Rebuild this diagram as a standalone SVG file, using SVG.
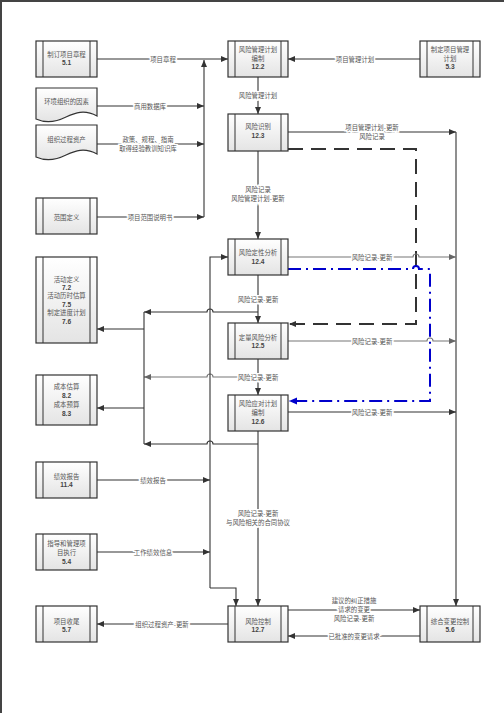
<svg xmlns="http://www.w3.org/2000/svg" width="504" height="713" viewBox="0 0 504 713">
<defs>
<linearGradient id="g" x1="0" y1="0" x2="0" y2="1">
<stop offset="0" stop-color="#ffffff"/>
<stop offset="1" stop-color="#e4e4e4"/>
</linearGradient>
<marker id="ad" markerUnits="userSpaceOnUse" markerWidth="8" markerHeight="7" refX="7" refY="3" orient="auto">
<path d="M0,0 L7,3 L0,6 z" fill="#333"/>
</marker>
<marker id="ag" markerUnits="userSpaceOnUse" markerWidth="8" markerHeight="7" refX="7" refY="3" orient="auto">
<path d="M0,0 L7,3 L0,6 z" fill="#666"/>
</marker>
<marker id="ab" markerUnits="userSpaceOnUse" markerWidth="9" markerHeight="8" refX="8" refY="3.5" orient="auto">
<path d="M0,0 L8,3.5 L0,7 z" fill="#0000cc"/>
</marker>
</defs>
<style>
.box{fill:url(#g);stroke:#333;stroke-width:1.2}
.in{stroke:#333;stroke-width:1}
.t{font-family:"Noto Sans CJK SC","Liberation Sans",sans-serif;font-size:6.4px;fill:#555;text-anchor:middle;dominant-baseline:central}
.n{font-family:"Liberation Sans","Noto Sans CJK SC",sans-serif;font-size:6.6px;font-weight:bold;fill:#444;text-anchor:middle;dominant-baseline:central}
.l{font-family:"Noto Sans CJK SC","Liberation Sans",sans-serif;font-size:6.4px;fill:#555;text-anchor:middle;dominant-baseline:central;stroke:#fff;stroke-width:3;paint-order:stroke}
.c{fill:none;stroke:#333;stroke-width:1.1}
.cd{fill:none;stroke:#333;stroke-width:1.1;marker-end:url(#ad)}
.cg{fill:none;stroke:#777;stroke-width:1.1;marker-end:url(#ag)}
.dash{fill:none;stroke:#333;stroke-width:2;stroke-dasharray:15 8;marker-end:url(#ad)}
.blue{fill:none;stroke:#0000cc;stroke-width:2;stroke-dasharray:13 5 2 5;marker-end:url(#ab)}
</style>
<rect x="0" y="0" width="504" height="713" fill="#fff"/>
<path d="M1,713 V1 H504" fill="none" stroke="#444" stroke-width="2"/>

<g id="connectors">
<path class="cd" d="M97,59 H228"/>
<text class="l" x="163" y="59">项目章程</text>
<path class="cd" d="M420,59 H288"/>
<text class="l" x="355" y="59">项目管理计划</text>
<path class="cd" d="M204,217 V60"/>
<path class="cd" d="M97,106 H204"/>
<text class="l" x="150" y="106">商用数据库</text>
<path class="cd" d="M97,144 H204"/>
<text class="l" x="148" y="139">政策、规程、指南</text>
<text class="l" x="148" y="148">取得经验教训知识库</text>
<path class="cd" d="M97,217 H204"/>
<text class="l" x="150" y="217">项目范围说明书</text>

<path class="cd" d="M258,77 V114"/>
<text class="l" x="258" y="95">风险管理计划</text>
<path class="cd" d="M258,151 V239"/>
<text class="l" x="258" y="189">风险记录</text>
<text class="l" x="258" y="198">风险管理计划-更新</text>

<path class="cd" d="M288,132 H456"/>
<text class="l" x="372" y="127">项目管理计划-更新</text>
<text class="l" x="372" y="136">风险记录</text>
<path class="cd" d="M456,132 V606"/>

<path class="dash" d="M288,149 H416 V324 H289"/>

<path class="cg" d="M288,257 H413 a3,3 0 0 1 6,0 H456"/>
<text class="l" x="372" y="257">风险记录-更新</text>

<path class="blue" d="M288,269 H413 a3,3 0 0 1 6,0 H430 V401 H289"/>

<path class="cg" d="M288,341 H427 a3,3 0 0 1 6,0 H456"/>
<text class="l" x="372" y="341">风险记录-更新</text>
<path class="cd" d="M288,412 H456"/>
<text class="l" x="372" y="412">风险记录-更新</text>

<path class="cd" d="M258,275 V323"/>
<text class="l" x="258" y="299">风险记录-更新</text>
<path class="cd" d="M258,312 H213 a3,3 0 0 0 -6,0 H144"/>
<path class="cd" d="M258,359 V395"/>
<path class="cg" d="M258,377 H213 a3,3 0 0 0 -6,0 H144"/>
<text class="l" x="258" y="377">风险记录-更新</text>
<path class="cd" d="M258,431 V606"/>
<path class="cd" d="M258,444 H213 a3,3 0 0 0 -6,0 H144"/>
<text class="l" x="258" y="513">风险记录-更新</text>
<text class="l" x="258" y="522">与风险相关的合同协议</text>

<path class="c" d="M144,312 V444"/>
<path class="cd" d="M144,329 H97"/>
<path class="cd" d="M144,408 H97"/>

<path class="cd" d="M210,588 V257 H228"/>
<path class="cd" d="M210,588 H236 V606"/>
<path class="cd" d="M97,480 H210"/>
<text class="l" x="153" y="480">绩效报告</text>
<path class="cd" d="M97,552 H210"/>
<text class="l" x="153" y="552">工作绩效信息</text>

<path class="cd" d="M228,624 H97"/>
<text class="l" x="162" y="624">组织过程资产-更新</text>
<path class="cd" d="M288,610 H420"/>
<text class="l" x="354" y="600">建议的纠正措施</text>
<text class="l" x="354" y="609">请求的变更</text>
<text class="l" x="354" y="618">风险记录-更新</text>
<path class="cd" d="M420,636 H288"/>
<text class="l" x="354" y="636">已批准的变更请求</text>
</g>

<g id="n51">
<rect class="box" x="36" y="41" width="61" height="36"/>
<path class="in" d="M43,41 V77 M90,41 V77"/>
<text class="t" x="66.5" y="54">制订项目章程</text>
<text class="n" x="66.5" y="62">5.1</text>
</g>
<g id="n122">
<rect class="box" x="228" y="41" width="60" height="36"/>
<path class="in" d="M235,41 V77 M281,41 V77"/>
<text class="t" x="258" y="49">风险管理计划</text>
<text class="t" x="258" y="58">编制</text>
<text class="n" x="258" y="66">12.2</text>
</g>
<g id="n53">
<rect class="box" x="420" y="41" width="60" height="36"/>
<path class="in" d="M427,41 V77 M473,41 V77"/>
<text class="t" x="450" y="49">制定项目管理</text>
<text class="t" x="450" y="58">计划</text>
<text class="n" x="450" y="66">5.3</text>
</g>
<g id="env">
<path class="box" d="M36,88 H97 V116 C84,109 75,113 66,117 C56,122 45,123 36,119 Z"/>
<text class="t" x="66.5" y="101">环境组织的因素</text>
</g>
<g id="opa">
<path class="box" d="M36,125 H97 V154 C84,147 75,151 66,155 C56,160 45,161 36,157 Z"/>
<text class="t" x="66.5" y="139">组织过程资产</text>
</g>
<g id="n123">
<rect class="box" x="228" y="114" width="60" height="37"/>
<path class="in" d="M235,114 V151 M281,114 V151"/>
<text class="t" x="258" y="126">风险识别</text>
<text class="n" x="258" y="135">12.3</text>
</g>
<g id="scope">
<rect class="box" x="36" y="198" width="61" height="36"/>
<path class="in" d="M43,198 V234 M90,198 V234"/>
<text class="t" x="66.5" y="217">范围定义</text>
</g>
<g id="n124">
<rect class="box" x="228" y="239" width="60" height="36"/>
<path class="in" d="M235,239 V275 M281,239 V275"/>
<text class="t" x="258" y="252">风险定性分析</text>
<text class="n" x="258" y="261">12.4</text>
</g>
<g id="act">
<rect class="box" x="36" y="257" width="61" height="86"/>
<path class="in" d="M43,257 V343 M90,257 V343"/>
<text class="t" x="66.5" y="279">活动定义</text>
<text class="n" x="66.5" y="287">7.2</text>
<text class="t" x="66.5" y="295">活动历时估算</text>
<text class="n" x="66.5" y="304">7.5</text>
<text class="t" x="66.5" y="312">制定进度计划</text>
<text class="n" x="66.5" y="321">7.6</text>
</g>
<g id="n125">
<rect class="box" x="228" y="323" width="60" height="36"/>
<path class="in" d="M235,323 V359 M281,323 V359"/>
<text class="t" x="258" y="337">定量风险分析</text>
<text class="n" x="258" y="345">12.5</text>
</g>
<g id="cost">
<rect class="box" x="36" y="375" width="61" height="50"/>
<path class="in" d="M43,375 V425 M90,375 V425"/>
<text class="t" x="66.5" y="386">成本估算</text>
<text class="n" x="66.5" y="395">8.2</text>
<text class="t" x="66.5" y="404">成本预算</text>
<text class="n" x="66.5" y="413">8.3</text>
</g>
<g id="n126">
<rect class="box" x="228" y="395" width="60" height="36"/>
<path class="in" d="M235,395 V431 M281,395 V431"/>
<text class="t" x="258" y="403">风险应对计划</text>
<text class="t" x="258" y="412">编制</text>
<text class="n" x="258" y="421">12.6</text>
</g>
<g id="n114">
<rect class="box" x="36" y="462" width="61" height="36"/>
<path class="in" d="M43,462 V498 M90,462 V498"/>
<text class="t" x="66.5" y="476">绩效报告</text>
<text class="n" x="66.5" y="484">11.4</text>
</g>
<g id="n54">
<rect class="box" x="36" y="534" width="61" height="36"/>
<path class="in" d="M43,534 V570 M90,534 V570"/>
<text class="t" x="66.5" y="543">指导和管理项</text>
<text class="t" x="66.5" y="552">目执行</text>
<text class="n" x="66.5" y="561">5.4</text>
</g>
<g id="n57">
<rect class="box" x="36" y="606" width="61" height="36"/>
<path class="in" d="M43,606 V642 M90,606 V642"/>
<text class="t" x="66.5" y="621">项目收尾</text>
<text class="n" x="66.5" y="629">5.7</text>
</g>
<g id="n127">
<rect class="box" x="228" y="606" width="60" height="36"/>
<path class="in" d="M235,606 V642 M281,606 V642"/>
<text class="t" x="258" y="621">风险控制</text>
<text class="n" x="258" y="629">12.7</text>
</g>
<g id="n56">
<rect class="box" x="420" y="606" width="60" height="36"/>
<path class="in" d="M427,606 V642 M473,606 V642"/>
<text class="t" x="450" y="621">综合变更控制</text>
<text class="n" x="450" y="629">5.6</text>
</g>
</svg>
